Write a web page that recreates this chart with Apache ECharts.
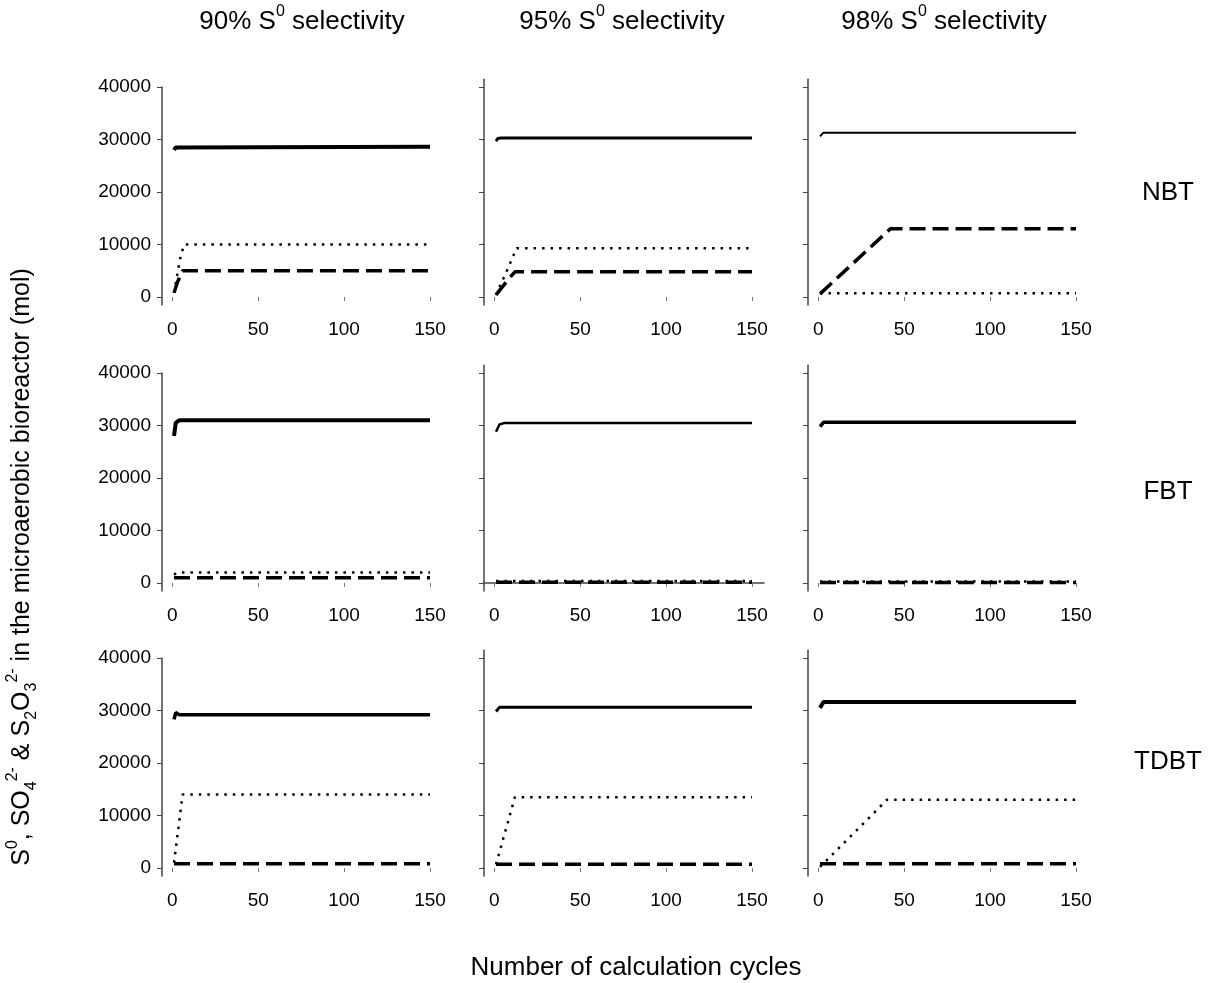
<!DOCTYPE html>
<html>
<head>
<meta charset="utf-8">
<title>Sulfur species in the microaerobic bioreactor</title>
<script src="https://cdn.jsdelivr.net/npm/echarts@6/dist/echarts.min.js"></script>
<style>
  html, body { margin: 0; padding: 0; background: #fff; }
  #chart { width: 1222px; height: 983px; }
</style>
</head>
<body>
<div id="chart"></div>
<script>
// Column (selectivity) and row (biotrickling type) labels
const columnTitles = ['90%', '95%', '98%'];
const rowTitles = ['NBT', 'FBT', 'TDBT'];
const xTicks = [0, 50, 100, 150];
const yTicks = [0, 10000, 20000, 30000, 40000];

// [calculation cycle, mol] break points for each panel and line
const nbt90Solid  = [[1, 28000], [2, 28500], [3, 28600], [150, 28600]];
const nbt90Dotted = [[1, 800], [3, 4500], [5, 8000], [7, 10000], [150, 10000]];
const nbt90Dashed = [[1, 800], [3, 2800], [6, 5000], [150, 5000]];

const nbt95Solid  = [[1, 29700], [2, 30200], [4, 30300], [150, 30300]];
const nbt95Dotted = [[1, 400], [8, 5500], [13, 9300], [150, 9300]];
const nbt95Dashed = [[1, 400], [8, 3300], [12, 4800], [150, 4800]];

const nbt98Solid  = [[1, 30600], [3, 31300], [150, 31300]];
const nbt98Dotted = [[1, 700], [150, 700]];
const nbt98Dashed = [[1, 600], [42, 13000], [150, 13000]];

const fbt90Solid  = [[1, 28000], [2, 30500], [4, 31000], [150, 31000]];
const fbt90Dotted = [[1, 1600], [3, 2000], [150, 2000]];
const fbt90Dashed = [[1, 1000], [150, 1000]];

const fbt95Solid  = [[1, 28800], [3, 30200], [6, 30500], [150, 30500]];
const fbt95Dotted = [[1, 400], [150, 400]];
const fbt95Dashed = [[1, 150], [150, 150]];

const fbt98Solid  = [[1, 29800], [3, 30600], [150, 30600]];
const fbt98Dotted = [[1, 300], [150, 300]];
const fbt98Dashed = [[1, 100], [150, 100]];

const tdbt90Solid  = [[1, 28300], [2, 29600], [4, 29200], [150, 29200]];
const tdbt90Dotted = [[1, 1000], [6, 14000], [150, 14000]];
const tdbt90Dashed = [[1, 800], [150, 800]];

const tdbt95Solid  = [[1, 29800], [3, 30600], [150, 30600]];
const tdbt95Dotted = [[1, 700], [12, 13500], [150, 13500]];
const tdbt95Dashed = [[1, 700], [150, 700]];

const tdbt98Solid  = [[1, 30500], [3, 31600], [150, 31600]];
const tdbt98Dotted = [[1, 200], [40, 13000], [150, 13000]];
const tdbt98Dashed = [[1, 800], [150, 800]];

const panelData = [
  [nbt90Solid, nbt90Dotted, nbt90Dashed],
  [nbt95Solid, nbt95Dotted, nbt95Dashed],
  [nbt98Solid, nbt98Dotted, nbt98Dashed],
  [fbt90Solid, fbt90Dotted, fbt90Dashed],
  [fbt95Solid, fbt95Dotted, fbt95Dashed],
  [fbt98Solid, fbt98Dotted, fbt98Dashed],
  [tdbt90Solid, tdbt90Dotted, tdbt90Dashed],
  [tdbt95Solid, tdbt95Dotted, tdbt95Dashed],
  [tdbt98Solid, tdbt98Dotted, tdbt98Dashed]
];

// ---- layout ----
const FONT = '"Liberation Sans", Arial, Helvetica, sans-serif';
const colLeft = [162, 484, 808];
const gridWidth = 280;
const rowZero = [297, 583, 868];   // pixel row of y = 0
const pxPerUnit = 5.25 / 1000;
const yMin = -1500;
const xMin = -6, xMax = 157;
const solidWidths = [4, 3, 2, 4, 2.5, 3.5, 3.5, 3, 4];
const axisColor = '#444';
const tickFont = 19;
const titleSize = 26;

const grids = [], xAxes = [], yAxes = [], series = [];
for (let r = 0; r < 3; r++) {
  for (let c = 0; c < 3; c++) {
    const i = r * 3 + c;
    const yMax = c === 0 ? 40000 : 41500;
    const top = rowZero[r] - yMax * pxPerUnit;
    const height = (yMax - yMin) * pxPerUnit;
    grids.push({ left: colLeft[c], top: top, width: gridWidth, height: height, containLabel: false });
    xAxes.push({
      type: 'value', gridIndex: i, min: xMin, max: xMax,
      axisLine: { show: i === 4, lineStyle: { color: axisColor, width: 1.5 } },
      axisTick: { show: true, customValues: xTicks, length: 4, lineStyle: { color: '#777', width: 1 } },
      axisLabel: { show: true, customValues: xTicks, margin: 15, color: '#000', fontSize: tickFont, fontFamily: FONT,
                   formatter: v => String(v) },
      splitLine: { show: false }
    });
    yAxes.push({
      type: 'value', gridIndex: i, min: yMin, max: yMax,
      axisLine: { show: true, onZero: false, lineStyle: { color: axisColor, width: 1.5 } },
      axisTick: { show: true, customValues: yTicks, length: 5, lineStyle: { color: axisColor, width: 1 } },
      axisLabel: { show: c === 0, customValues: yTicks, margin: 11, color: '#000', fontSize: tickFont, fontFamily: FONT,
                   formatter: v => String(v) },
      splitLine: { show: false }
    });
    const [solid, dotted, dashed] = panelData[i];
    const base = { type: 'line', xAxisIndex: i, yAxisIndex: i, showSymbol: false, symbol: 'none', silent: true, animation: false };
    series.push(Object.assign({}, base, { name: 'S⁰', data: solid,
      lineStyle: { color: '#000', width: solidWidths[i], type: 'solid' } }));
    series.push(Object.assign({}, base, { name: 'SO₄²⁻', data: dotted,
      lineStyle: { color: '#000', width: 2.5, type: [2.5, 6] } }));
    series.push(Object.assign({}, base, { name: 'S₂O₃²⁻', data: dashed,
      lineStyle: { color: '#000', width: 3.5, type: [16, 7] } }));
  }
}

// rich text styles for super/subscripts
function richStyles(size) {
  const small = Math.round(size * 0.62);
  return {
    n:   { fontSize: size, fontFamily: FONT, fill: '#000', lineHeight: size + 10 },
    sup: { fontSize: small, fontFamily: FONT, fill: '#000', verticalAlign: 'top', lineHeight: small },
    sub: { fontSize: small, fontFamily: FONT, fill: '#000', verticalAlign: 'bottom', lineHeight: small }
  };
}

const colCenters = [302, 622, 944];
const rowCenters = [193, 492, 762];
const graphics = [];
columnTitles.forEach((t, c) => {
  graphics.push({
    type: 'text', x: colCenters[c], y: 22, silent: true,
    style: { text: `{n|${t} S}{sup|0}{n| selectivity}`, rich: richStyles(titleSize), align: 'center', verticalAlign: 'middle' }
  });
});
rowTitles.forEach((t, r) => {
  graphics.push({
    type: 'text', x: 1168, y: rowCenters[r], silent: true,
    style: { text: t, fontSize: titleSize, fontFamily: FONT, fill: '#000', align: 'center', verticalAlign: 'middle' }
  });
});
graphics.push({
  type: 'text', x: 636, y: 968, silent: true,
  style: { text: 'Number of calculation cycles', fontSize: titleSize, fontFamily: FONT, fill: '#000', align: 'center', verticalAlign: 'middle' }
});
graphics.push({
  type: 'text', x: 22, y: 567, rotation: Math.PI / 2, silent: true,
  style: {
    text: '{n|S}{sup|0}{n|, SO}{sub|4}{sup|2-}{n| & S}{sub|2}{n|O}{sub|3}{sup|2-}{n| in the microaerobic bioreactor (mol)}',
    rich: richStyles(titleSize - 1), align: 'center', verticalAlign: 'middle'
  }
});

const chart = echarts.init(document.getElementById('chart'), null, { renderer: 'canvas' });
chart.setOption({
  animation: false,
  backgroundColor: '#fff',
  grid: grids,
  xAxis: xAxes,
  yAxis: yAxes,
  series: series,
  graphic: graphics
});
</script>
</body>
</html>
